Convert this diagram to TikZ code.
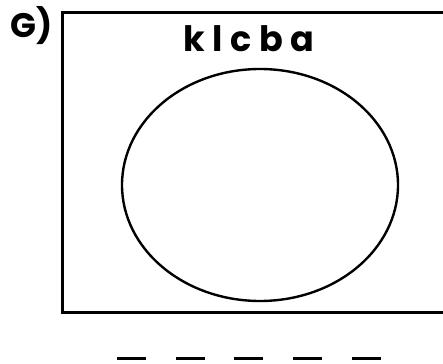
\documentclass[tikz,border=0pt]{standalone}
\usepackage{fontspec}
\setmainfont{Poppins}
\begin{document}
\begin{tikzpicture}[x=1pt, y=-1pt, every node/.style={inner sep=0pt, anchor=base}]
  \useasboundingbox (0,0) rectangle (443,363);

  % question label
  \node[anchor=base west, font=\fontsize{34}{36}\selectfont\bfseries] (label) at (10,38) {G)};

  % frame, open on the right
  \draw[line width=3pt] (446,13) -- (62,13) -- (62,312) -- (446,312);

  % set name
  \node[font=\fontsize{35}{38}\selectfont\bfseries] (setname) at (249,52) {k l c b a};

  % the set
  \draw[line width=2.4pt] (260,185) ellipse (138pt and 116pt);

  % answer blanks
  \foreach \x in {117,176,234,293,352}
    \draw[line width=3pt] (\x,358) -- ++(29,0);
\end{tikzpicture}
\end{document}
